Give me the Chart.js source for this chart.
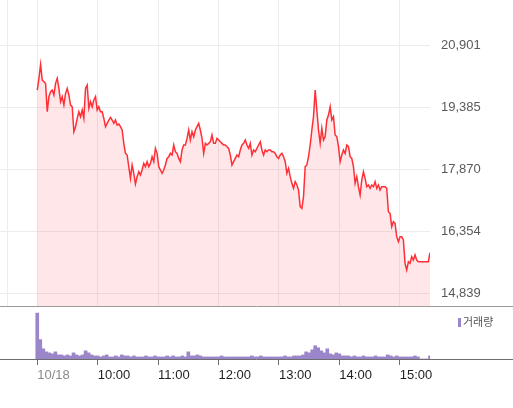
<!DOCTYPE html>
<html>
<head>
<meta charset="utf-8">
<title>지수 차트</title>
<script src="https://cdn.jsdelivr.net/npm/chart.js"></script>
<style>
  body { margin: 0; background: #fff; }
  .wrap { position: relative; width: 513px; height: 408px; overflow: hidden; }
  #price { position: absolute; left: 0; top: 0; }
  #volume { position: absolute; left: 0; top: 307px; }
  .legend { position: absolute; left: 458px; top: 314px; font: 11px 'Noto Sans CJK KR', sans-serif; color: #555; line-height: 14px; }
  .legend i { display: inline-block; width: 3px; height: 9px; background: #9a86c8; margin-right: 2px; vertical-align: -1px; }
</style>
</head>
<body>
<div class="wrap">
  <canvas id="price" width="513" height="308"></canvas>
  <canvas id="volume" width="513" height="101"></canvas>
  <div class="legend"><i></i>거래량</div>
</div>

<script>
// minutes after midnight: 9:00 open .. 15:30 close
const openMin = 540;
const closeMin = 930;

// price left to right (evenly spaced from open to close)
const prices = [
  19802, 20087, 20429, 20046, 20006, 19965, 19273, 19640, 19762, 19802,
  19680, 19965, 20087, 19843, 19518, 19640, 19436, 19721, 19843, 19680,
  19436, 19395, 18785, 18907, 19111, 19273, 19151, 19314, 19111, 19843,
  19924, 19355, 19518, 19395, 19558, 19640, 19314, 19395, 19273, 19273,
  19111, 18907, 18989, 19070, 19135, 19070, 18989, 19070, 18948, 18972,
  18907, 18826, 18500, 18256, 18216, 17931, 17646, 17972, 17768, 17508,
  17687, 17809, 17727, 17849, 18012, 17931, 18053, 17931, 18012, 18175,
  18053, 18378, 18256, 17931, 17849, 17768, 17849, 17972, 18134, 18175,
  18256, 18216, 18460, 18297, 18256, 18134, 18053, 18338, 18460, 18460,
  18622, 18826, 18582, 18785, 18663, 18826, 18907, 18989, 18826, 18622,
  18256, 18500, 18460, 18500, 18541, 18704, 18500, 18500, 18622, 18582,
  18541, 18500, 18460, 18460, 18419, 18378, 18216, 17972, 18053, 18134,
  18216, 18175, 18338, 18460, 18500, 18582, 18460, 18378, 18500, 18216,
  18338, 18297, 18378, 18460, 18541, 18338, 18216, 18338, 18297, 18338,
  18338, 18297, 18297, 18256, 18175, 18134, 18216, 18256, 18175, 18053,
  17768, 17890, 17687, 17524, 17402, 17565, 17483, 17361, 16954, 16914,
  17198, 17931, 17972, 18175, 18460, 18826, 19151, 19802, 19314, 18826,
  18500, 18867, 18582, 18663, 19070, 19192, 19395, 19070, 19151, 18704,
  18663, 18419, 18053, 18216, 18338, 18256, 18460, 18419, 18175, 18134,
  17931, 17524, 17687, 17443, 17239, 17605, 17809, 17646, 17443, 17483,
  17402, 17483, 17443, 17565, 17402, 17483, 17361, 17443, 17443, 17443,
  17402, 16832, 16792, 16466, 16588, 16548, 16222, 16100, 16222, 16222,
  16141, 15571, 15408, 15612, 15571, 15734, 15652, 15775, 15652, 15612,
  15612, 15612, 15612, 15612, 15612, 15612, 15831
];

// volume per 3-minute bucket starting at 9:00
const volBucketMin = 3;
const volumes = [
  450, 190, 100, 70, 60, 50, 70, 40, 40, 30,
  40, 30, 60, 40, 30, 40, 80, 60, 40, 30,
  30, 20, 30, 40, 20, 20, 30, 20, 40, 30,
  30, 20, 30, 20, 20, 20, 30, 20, 20, 30,
  20, 20, 20, 30, 20, 30, 20, 20, 30, 20,
  70, 30, 30, 40, 30, 20, 20, 20, 20, 20,
  20, 30, 20, 20, 20, 20, 20, 20, 20, 20,
  20, 30, 20, 20, 30, 20, 20, 20, 20, 20,
  20, 20, 30, 20, 20, 30, 30, 30, 40, 70,
  60, 90, 130, 110, 80, 60, 100, 50, 40, 60,
  50, 30, 30, 30, 20, 30, 20, 20, 30, 20,
  20, 20, 30, 20, 20, 20, 40, 30, 20, 30,
  20, 20, 20, 20, 20, 30, 20, 0, 0, 0,
  30
];

const priceTicks = [14839, 16354, 17870, 19385, 20901];
const gridTimes = [510, 540, 600, 660, 720, 780, 840, 900];
const tickTimes = [540, 600, 660, 720, 780, 840, 900];
const tickLabels = ['10/18', '10:00', '11:00', '12:00', '13:00', '14:00', '15:00'];

const priceStep = (closeMin - openMin) / (prices.length - 1);
const pricePoints = prices.map((p, i) => ({ x: openMin + i * priceStep, y: p }));
const volumePoints = volumes.map((v, i) => ({ x: openMin + i * volBucketMin, y: v }));

const axisFont = { family: "'Liberation Sans', Arial, sans-serif", size: 13 };

// full-width line under each panel
const panelLine = {
  id: 'panelLine',
  afterDraw(chart, args, opts) {
    const ctx = chart.ctx;
    const y = Math.round(chart.chartArea.bottom) + 0.5;
    ctx.save();
    ctx.strokeStyle = opts.color;
    ctx.lineWidth = 1;
    ctx.beginPath();
    ctx.moveTo(0, y);
    ctx.lineTo(chart.width, y);
    ctx.stroke();
    ctx.restore();
  }
};

new Chart(document.getElementById('price'), {
  type: 'line',
  data: {
    datasets: [{
      data: pricePoints,
      borderColor: '#ff2f36',
      borderWidth: 1.5,
      backgroundColor: 'rgba(245, 50, 70, 0.12)',
      fill: 'start',
      pointRadius: 0,
      tension: 0
    }]
  },
  options: {
    responsive: false,
    animation: false,
    layout: { padding: 0 },
    plugins: {
      legend: { display: false },
      tooltip: { enabled: false },
      panelLine: { color: '#9a9a9a' }
    },
    scales: {
      x: {
        type: 'linear',
        min: 503,
        max: 930,
        afterBuildTicks: scale => { scale.ticks = gridTimes.map(v => ({ value: v })); },
        afterFit: scale => { scale.height = 2; scale.paddingLeft = 0; scale.paddingRight = 0; },
        ticks: { display: false },
        grid: { color: '#ececec', drawTicks: false, offset: false },
        border: { display: false }
      },
      y: {
        position: 'right',
        min: 14530,
        max: 22000,
        afterBuildTicks: scale => { scale.ticks = priceTicks.map(v => ({ value: v })); },
        afterFit: scale => { scale.width = 83; scale.paddingTop = 0; scale.paddingBottom = 0; },
        ticks: {
          padding: 11,
          color: '#5a5a5a',
          font: axisFont,
          callback: v => v.toLocaleString('en-US')
        },
        grid: { color: '#ececec', drawTicks: false },
        border: { display: false }
      }
    }
  },
  plugins: [panelLine]
});

new Chart(document.getElementById('volume'), {
  type: 'bar',
  data: {
    datasets: [{
      data: volumePoints,
      backgroundColor: '#9a86c8',
      barThickness: 3,
      borderWidth: 0
    }]
  },
  options: {
    responsive: false,
    animation: false,
    layout: { padding: 0 },
    plugins: {
      legend: { display: false },
      tooltip: { enabled: false },
      panelLine: { color: '#6e6e6e' }
    },
    scales: {
      x: {
        type: 'linear',
        offset: false,
        min: 503,
        max: 930,
        afterBuildTicks: scale => { scale.ticks = tickTimes.map(v => ({ value: v })); },
        afterFit: scale => { scale.height = 49; scale.paddingLeft = 0; scale.paddingRight = 0; },
        ticks: {
          align: 'start',
          padding: 3,
          maxRotation: 0,
          autoSkip: false,
          font: axisFont,
          color: ctx => ctx.index === 0 ? '#8a8a8a' : '#1e1e1e',
          callback: (v, i) => tickLabels[i]
        },
        grid: { offset: false, drawOnChartArea: false, drawTicks: true, tickLength: 6, color: '#6e6e6e' },
        border: { display: false }
      },
      y: {
        position: 'right',
        min: 0,
        max: 510,
        afterFit: scale => { scale.width = 83; scale.paddingTop = 0; scale.paddingBottom = 0; },
        ticks: { display: false },
        grid: { display: false },
        border: { display: false }
      }
    }
  },
  plugins: [panelLine]
});
</script>
</body>
</html>
